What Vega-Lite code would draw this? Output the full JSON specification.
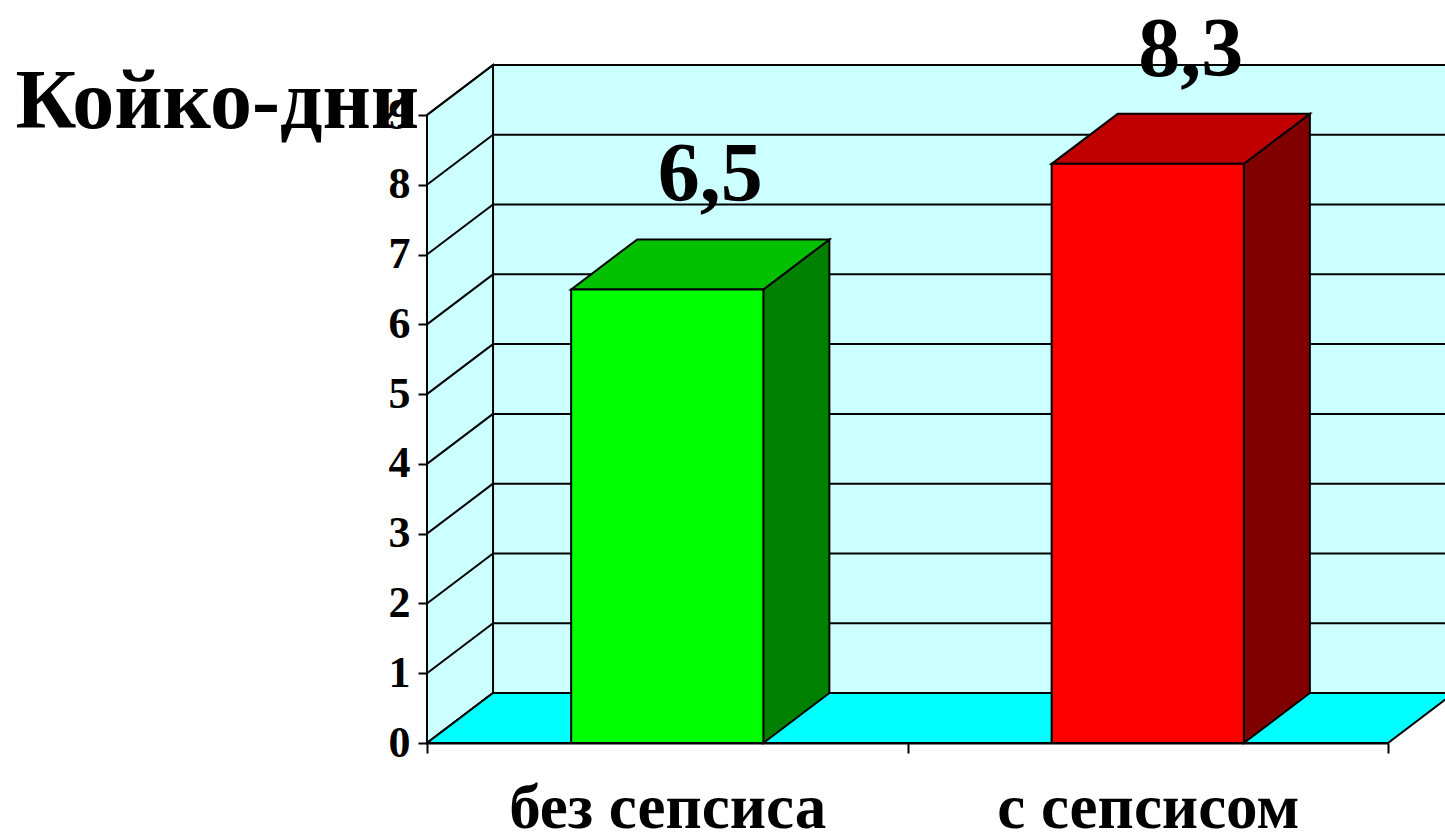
{
  "$schema": "https://vega.github.io/schema/vega-lite/v6.json",
  "width": 961,
  "height": 628,
  "autosize": {"type": "none"},
  "padding": {"left": 427, "top": 115, "right": 57, "bottom": 93},
  "background": "white",
  "params": [
    {"name": "dx", "value": 0.1374},
    {"name": "dy", "value": 0.7166}
  ],
  "datasets": {
    "beds": [
      {"group": "без сепсиса", "days": 6.5},
      {"group": "с сепсисом", "days": 8.3}
    ],
    "levels": [
      {"k": 0}, {"k": 1}, {"k": 2}, {"k": 3}, {"k": 4},
      {"k": 5}, {"k": 6}, {"k": 7}, {"k": 8}, {"k": 9}
    ]
  },
  "config": {
    "view": {"stroke": null},
    "font": "Liberation Serif",
    "locale": {
      "number": {"decimal": ",", "thousands": " ", "grouping": [3], "currency": ["", " руб."]}
    },
    "axisY": {
      "grid": false, "zindex": 1, "tickCount": 10,
      "tickSize": 9, "tickColor": "black", "tickWidth": 2,
      "domainColor": "black", "domainWidth": 2,
      "labelFont": "Liberation Serif", "labelFontWeight": "bold", "labelFontSize": 44,
      "labelColor": "black", "labelPadding": 8,
      "titleAngle": 0, "titleX": -412, "titleY": 12,
      "titleAlign": "left", "titleBaseline": "alphabetic",
      "titleFont": "Liberation Serif", "titleFontWeight": "bold", "titleFontSize": 84, "titleColor": "black"
    },
    "axisX": {
      "labelAngle": 0, "zindex": 1,
      "tickBand": "extent", "tickSize": 10, "tickColor": "black", "tickWidth": 2,
      "domainColor": "black", "domainWidth": 2,
      "labelFont": "Liberation Serif", "labelFontWeight": "bold", "labelFontSize": 63,
      "labelColor": "black", "labelBaseline": "alphabetic", "labelPadding": 74, "labelLimit": 0
    }
  },
  "resolve": {"scale": {"x": "independent", "color": "independent"}, "axis": {"x": "independent"}},
  "layer": [
    {
      "description": "back wall",
      "data": {"values": [{}]},
      "transform": [
        {"calculate": "dx", "as": "xa"},
        {"calculate": "2 + dx", "as": "xb"},
        {"calculate": "dy", "as": "ya"},
        {"calculate": "9 + dy", "as": "yb"}
      ],
      "mark": {"type": "rect", "fill": "#ccffff", "stroke": "black", "strokeWidth": 2},
      "encoding": {
        "x": {"field": "xa", "type": "quantitative", "scale": {"domain": [0, 2], "nice": false}, "axis": null},
        "x2": {"field": "xb"},
        "y": {"field": "ya", "type": "quantitative", "title": "Койко-дни", "scale": {"domain": [0, 9], "nice": false}},
        "y2": {"field": "yb"}
      }
    },
    {
      "description": "back wall gridlines",
      "data": {"name": "levels"},
      "transform": [
        {"calculate": "dx", "as": "xa"},
        {"calculate": "2 + dx", "as": "xb"},
        {"calculate": "datum.k + dy", "as": "yk"}
      ],
      "mark": {"type": "rule", "stroke": "black", "strokeWidth": 2},
      "encoding": {
        "x": {"field": "xa", "type": "quantitative", "scale": {"domain": [0, 2], "nice": false}, "axis": null},
        "x2": {"field": "xb"},
        "y": {"field": "yk", "type": "quantitative", "title": "Койко-дни", "scale": {"domain": [0, 9], "nice": false}}
      }
    },
    {
      "description": "left wall",
      "data": {"values": [{}]},
      "transform": [
        {"calculate": "[0, 1]", "as": "s"},
        {"flatten": ["s"]},
        {"calculate": "datum.s * dx", "as": "xs"},
        {"calculate": "datum.s * dy", "as": "lo"},
        {"calculate": "9 + datum.s * dy", "as": "hi"}
      ],
      "mark": {"type": "area", "orient": "vertical", "fill": "#ccffff", "stroke": "black", "strokeWidth": 2},
      "encoding": {
        "x": {"field": "xs", "type": "quantitative", "scale": {"domain": [0, 2], "nice": false}, "axis": null},
        "y": {"field": "lo", "type": "quantitative", "title": "Койко-дни", "scale": {"domain": [0, 9], "nice": false}},
        "y2": {"field": "hi"}
      }
    },
    {
      "description": "left wall diagonals",
      "data": {"name": "levels"},
      "transform": [
        {"calculate": "0", "as": "xa"},
        {"calculate": "dx", "as": "xb"},
        {"calculate": "datum.k + dy", "as": "yk2"}
      ],
      "mark": {"type": "rule", "stroke": "black", "strokeWidth": 2},
      "encoding": {
        "x": {"field": "xa", "type": "quantitative", "scale": {"domain": [0, 2], "nice": false}, "axis": null},
        "x2": {"field": "xb"},
        "y": {"field": "k", "type": "quantitative", "title": "Койко-дни", "scale": {"domain": [0, 9], "nice": false}},
        "y2": {"field": "yk2"}
      }
    },
    {
      "description": "floor",
      "data": {"values": [{}]},
      "transform": [
        {"calculate": "[0, 1]", "as": "s"},
        {"flatten": ["s"]},
        {"calculate": "datum.s * dy", "as": "ys"},
        {"calculate": "datum.s * dx", "as": "xa"},
        {"calculate": "2 + datum.s * dx", "as": "xb"}
      ],
      "mark": {"type": "area", "orient": "horizontal", "fill": "#00ffff", "stroke": "black", "strokeWidth": 2},
      "encoding": {
        "y": {"field": "ys", "type": "quantitative", "title": "Койко-дни", "scale": {"domain": [0, 9], "nice": false}},
        "x": {"field": "xa", "type": "quantitative", "scale": {"domain": [0, 2], "nice": false}, "axis": null},
        "x2": {"field": "xb"}
      }
    },
    {
      "description": "bar side faces",
      "data": {"name": "beds"},
      "transform": [
        {"window": [{"op": "row_number", "as": "n"}]},
        {"calculate": "[0, 1]", "as": "s"},
        {"flatten": ["s"]},
        {"calculate": "datum.n - 1 + 0.7 + datum.s * dx", "as": "xs"},
        {"calculate": "datum.s * dy", "as": "lo"},
        {"calculate": "datum.days + datum.s * dy", "as": "hi"}
      ],
      "mark": {"type": "area", "orient": "vertical", "stroke": "black", "strokeWidth": 2, "opacity": 1},
      "encoding": {
        "x": {"field": "xs", "type": "quantitative", "scale": {"domain": [0, 2], "nice": false}, "axis": null},
        "y": {"field": "lo", "type": "quantitative", "title": "Койко-дни", "scale": {"domain": [0, 9], "nice": false}},
        "y2": {"field": "hi"},
        "color": {"field": "group", "type": "nominal", "scale": {"domain": ["без сепсиса", "с сепсисом"], "range": ["#008000", "#800000"]}, "legend": null}
      }
    },
    {
      "description": "bar top faces",
      "data": {"name": "beds"},
      "transform": [
        {"window": [{"op": "row_number", "as": "n"}]},
        {"calculate": "[0, 1]", "as": "s"},
        {"flatten": ["s"]},
        {"calculate": "datum.days + datum.s * dy", "as": "ys"},
        {"calculate": "datum.n - 1 + 0.3 + datum.s * dx", "as": "xa"},
        {"calculate": "datum.n - 1 + 0.7 + datum.s * dx", "as": "xb"}
      ],
      "mark": {"type": "area", "orient": "horizontal", "stroke": "black", "strokeWidth": 2, "opacity": 1},
      "encoding": {
        "y": {"field": "ys", "type": "quantitative", "title": "Койко-дни", "scale": {"domain": [0, 9], "nice": false}},
        "x": {"field": "xa", "type": "quantitative", "scale": {"domain": [0, 2], "nice": false}, "axis": null},
        "x2": {"field": "xb"},
        "color": {"field": "group", "type": "nominal", "scale": {"domain": ["без сепсиса", "с сепсисом"], "range": ["#00c000", "#c00000"]}, "legend": null}
      }
    },
    {
      "description": "bar front faces",
      "data": {"name": "beds"},
      "mark": {"type": "bar", "width": {"band": 0.4}, "stroke": "black", "strokeWidth": 2, "opacity": 1},
      "encoding": {
        "x": {
          "field": "group", "type": "nominal", "sort": null, "title": null,
          "scale": {"paddingInner": 0, "paddingOuter": 0}
        },
        "y": {"field": "days", "type": "quantitative", "title": "Койко-дни", "scale": {"domain": [0, 9], "nice": false}},
        "color": {"field": "group", "type": "nominal", "scale": {"domain": ["без сепсиса", "с сепсисом"], "range": ["#00ff00", "#ff0000"]}, "legend": null}
      }
    },
    {
      "description": "value labels",
      "data": {"name": "beds"},
      "mark": {"type": "text", "font": "Liberation Serif", "fontWeight": "bold", "fontSize": 84, "color": "black", "baseline": "alphabetic", "dx": 43, "dy": -88},
      "encoding": {
        "x": {"field": "group", "type": "nominal", "sort": null, "scale": {"paddingInner": 0, "paddingOuter": 0}, "axis": null},
        "y": {"field": "days", "type": "quantitative", "title": "Койко-дни", "scale": {"domain": [0, 9], "nice": false}},
        "text": {"field": "days", "type": "quantitative", "format": ".1f"}
      }
    }
  ]
}
